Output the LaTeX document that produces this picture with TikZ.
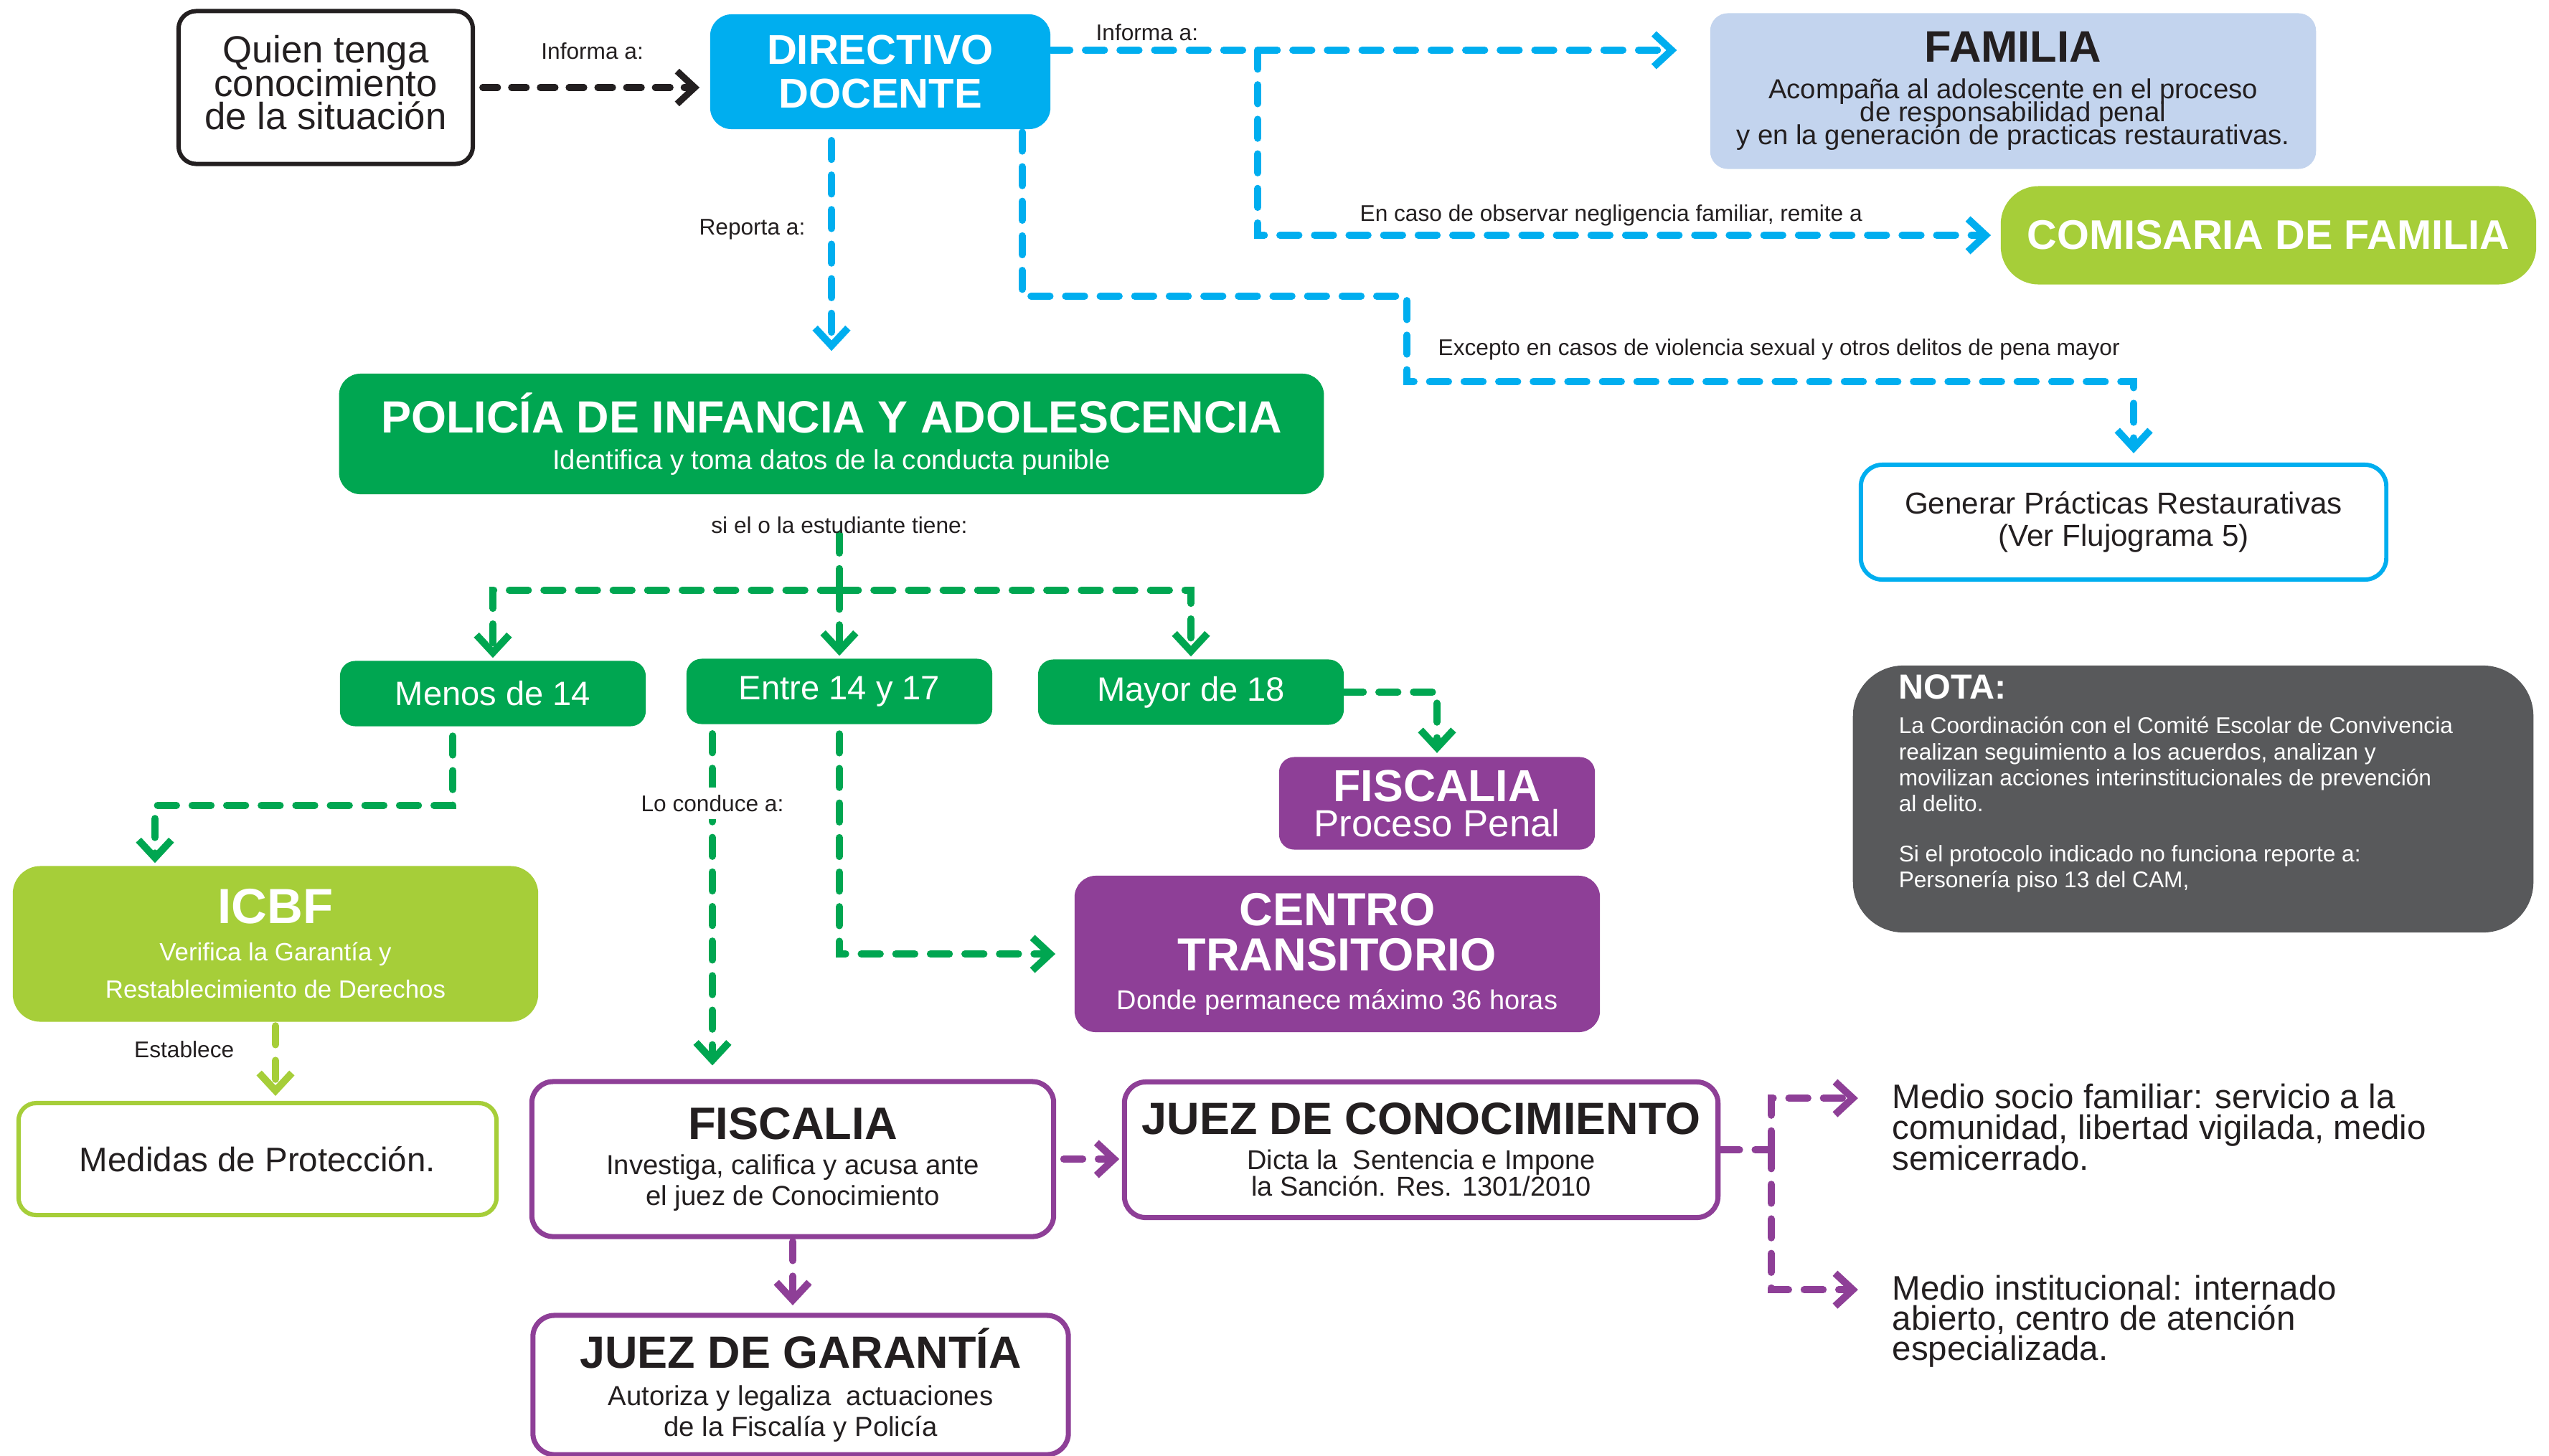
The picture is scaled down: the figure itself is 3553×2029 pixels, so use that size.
\documentclass[tikz,border=0pt]{standalone}
\usepackage{fontspec}
\setmainfont{Liberation Sans}
\usetikzlibrary{arrows.meta}
\definecolor{cyanc}{HTML}{00AEEF}
\definecolor{greenc}{HTML}{00A651}
\definecolor{limec}{HTML}{A6CE39}
\definecolor{paleblue}{HTML}{C3D4EE}
\definecolor{purplec}{HTML}{8E3F97}
\definecolor{greyc}{HTML}{58595B}
\definecolor{inkc}{HTML}{231F20}
\lineskiplimit=-100pt
\lineskip=0pt

\begin{document}
\begin{tikzpicture}[x=0.01cm,y=-0.01cm,
  >={Straight Barb[length=7pt,width=13pt]},
  box/.style={rectangle,rounded corners=8.5pt,inner sep=0pt,align=center},
  agebox/.style={box,fill=greenc,rounded corners=6pt,minimum width=4.26cm,minimum height=0.91cm,text=white,font=\fontsize{13.4}{14}\selectfont},
  judgebox/.style={box,draw=purplec,line width=2pt,text=inkc},
  lbl/.style={inner sep=0pt,text=inkc,font=\fontsize{9}{10}\selectfont},
  dashline/.style={line width=2.85pt,line cap=round,dash pattern=on 7.5pt off 6.2pt},
  bluedash/.style={dashline,draw=cyanc},
  greendash/.style={dashline,draw=greenc},
  limedash/.style={dashline,draw=limec},
  purpledash/.style={dashline,draw=purplec},
  blackdash/.style={line width=2.6pt,line cap=round,dash pattern=on 6pt off 5.4pt,draw=inkc}]

  \fill[white] (0,0) rectangle (3553,2029);
  \useasboundingbox (0,0) rectangle (3553,2029);

  \node[box,draw=inkc,line width=1.7pt,rounded corners=7pt,minimum width=4.1cm,minimum height=2.13cm,text depth=4pt,text=inkc,font=\fontsize{15}{13.2}\selectfont] (1) at (454,122) {Quien tenga\\conocimiento\\de la situación};
  \node[box,fill=cyanc,minimum width=4.74cm,minimum height=1.6cm,text=white,font=\fontsize{16.5}{17.4}\selectfont\bfseries] (2) at (1227,100) {DIRECTIVO\\DOCENTE};
  \node[box,fill=paleblue,rounded corners=7pt,minimum width=8.44cm,minimum height=2.17cm,text=inkc,font=\fontsize{10.9}{9.1}\selectfont] (3) at (2806,127) {{\fontsize{17.5}{18}\selectfont\bfseries FAMILIA}\\[5.3pt]Acompaña al adolescente en el proceso\\de responsabilidad penal\\y en la generación de practicas restaurativas.};
  \node[box,fill=limec,rounded corners=15pt,minimum width=7.46cm,minimum height=1.37cm,text=white,font=\fontsize{16.4}{17}\selectfont\bfseries] (4) at (3162,328) {COMISARIA DE FAMILIA};
  \node[box,fill=greenc,minimum width=13.72cm,minimum height=1.68cm,text=white,font=\fontsize{10.9}{12}\selectfont] (5) at (1159,605) {{\fontsize{17.9}{18}\selectfont\bfseries POLICÍA DE INFANCIA Y ADOLESCENCIA}\\[2.5pt]Identifica y toma datos de la conducta punible};
  \node[box,draw=cyanc,line width=1.7pt,minimum width=7.32cm,minimum height=1.6cm,text=inkc,font=\fontsize{12}{12.8}\selectfont] (6) at (2960,728) {Generar Prácticas Restaurativas\\(Ver Flujograma 5)};
  \node[fill=greyc,rounded corners=20pt,inner sep=0pt,minimum width=9.48cm,minimum height=3.72cm,text=white,font=\fontsize{9}{10.3}\selectfont] (7) at (3057,1114) {\parbox[c][3.72cm][t]{8.2cm}{\raggedright\vspace*{3.5pt}{\fontsize{13.8}{14}\selectfont\bfseries NOTA:}\\[3.6pt]La Coordinación con el Comité Escolar de Convivencia\\realizan seguimiento a los acuerdos, analizan y\\movilizan acciones interinstitucionales de prevención\\al delito.\\[9.5pt]Si el protocolo indicado no funciona reporte a:\\Personería piso 13 del CAM,}};
  \node[agebox] (8) at (687,967) {Menos de 14};
  \node[agebox] (9) at (1170,964) {Entre 14 y 17};
  \node[agebox] (10) at (1660,965) {Mayor de 18};
  \node[box,fill=purplec,rounded corners=6pt,minimum width=4.4cm,minimum height=1.29cm,text=white,font=\fontsize{15}{14}\selectfont] (11) at (2003,1120) {{\fontsize{17.8}{18}\selectfont\bfseries FISCALIA}\\Proceso Penal};
  \node[box,fill=purplec,minimum width=7.32cm,minimum height=2.18cm,text=white,font=\fontsize{10.8}{15.4}\selectfont] (12) at (1864,1330) {{\fontsize{18.4}{18}\selectfont\bfseries CENTRO}\\[2.5pt]{\fontsize{18.4}{18}\selectfont\bfseries TRANSITORIO}\\Donde permanece máximo 36 horas};
  \node[box,fill=limec,rounded corners=11pt,minimum width=7.32cm,minimum height=2.17cm,text=white,font=\fontsize{9.9}{14.8}\selectfont] (13) at (384,1316) {{\fontsize{19.6}{20}\selectfont\bfseries ICBF}\\Verifica la Garantía y\\Restablecimiento de Derechos};
  \node[box,draw=limec,line width=1.7pt,rounded corners=7pt,minimum width=6.66cm,minimum height=1.56cm,text=inkc,font=\fontsize{13.5}{14}\selectfont] (14) at (359,1616) {Medidas de Protección.};
  \node[judgebox,minimum width=7.27cm,minimum height=2.16cm,font=\fontsize{10.9}{12.2}\selectfont] (15) at (1105,1616) {{\fontsize{18}{18}\selectfont\bfseries FISCALIA}\\[1.7pt]Investiga, califica y acusa ante\\el juez de Conocimiento};
  \node[judgebox,minimum width=8.27cm,minimum height=1.89cm,font=\fontsize{10.8}{10.5}\selectfont] (16) at (1981,1603) {{\fontsize{17.9}{18}\selectfont\bfseries JUEZ DE CONOCIMIENTO}\\[3.4pt]Dicta la\ \ Sentencia e Impone\\la Sanción. Res. 1301/2010};
  \node[judgebox,minimum width=7.46cm,minimum height=1.94cm,font=\fontsize{10.9}{12}\selectfont] (17) at (1116,1931) {{\fontsize{17.9}{18}\selectfont\bfseries JUEZ DE GARANTÍA}\\[2.8pt]Autoriza y legaliza\ \ actuaciones\\de la Fiscalía y Policía};
  \node[anchor=north west,inner sep=0pt,align=left,text=inkc,font=\fontsize{13.5}{12.3}\selectfont] (18) at (2637,1510) {Medio socio familiar: servicio a la\\comunidad, libertad vigilada, medio\\semicerrado.};
  \node[anchor=north west,inner sep=0pt,align=left,text=inkc,font=\fontsize{13.5}{12}\selectfont] (19) at (2637,1777) {Medio institucional: internado\\abierto, centro de atención\\especializada.};

  \coordinate (a) at (1753,70);
  \coordinate (b) at (1425,413);
  \coordinate (c) at (1961,532);
  \coordinate (d) at (1170,823);
  \coordinate (e) at (631,1123);
  \coordinate (f) at (216,1123);
  \coordinate (g) at (993,1010);
  \coordinate (h) at (2469,1603);

  \draw[blackdash,->,shorten <=3pt,shorten >=4pt] (1) -- node[lbl,above=9.8pt] {Informa a:} (1 -| 2.west);
  \draw[bluedash,->,shorten >=13pt] (2.east |- a) -- node[lbl,above=2.4pt,pos=0.146] {Informa a:} (3.west |- a);
  \draw[bluedash,->,shorten >=3.7pt] (a) |- node[lbl,above=2.3pt,pos=0.738] {En caso de observar negligencia familiar, remite a} (4.west);
  \draw[bluedash,->,shorten <=1pt,shorten >=3.7pt] (2.south -| b) -- (b) -| (c) -| node[lbl,above=7.1pt,pos=0.256] {Excepto en casos de violencia sexual y otros delitos de pena mayor} ([xshift=4pt]6.north);
  \draw[bluedash,->,shorten <=4.3pt,shorten >=8.8pt] (2.south -| 5.north) -- node[lbl,left=9pt,pos=0.41] {Reporta a:} (5.north);

  \draw[greendash,shorten <=15.6pt] (5.south -| d) -- node[lbl,pos=0.32] {si el o la estudiante tiene:} (d);
  \draw[greendash,->,shorten >=1pt] (d) -| (8.north);
  \draw[greendash,->,shorten >=1pt] (d) -- (9.north);
  \draw[greendash,->,shorten >=1pt] (d) -| (10.north);
  \draw[greendash,->,shorten >=1.4pt] (10.east) -| (11.north);
  \draw[greendash,->,shorten <=3.7pt,shorten >=1pt] (8.south -| e) -- (e) -- (f) -- (f |- 13.north);
  \draw[greendash,->,shorten <=3.7pt,shorten >=5.4pt] (g) -- node[lbl,fill=white,inner sep=3pt,pos=0.223] {Lo conduce a:} (g |- 15.north);
  \draw[greendash,->,shorten <=3.7pt,shorten >=7.4pt] (9.south) |- (12.west);
  \draw[limedash,->,shorten <=1.4pt,shorten >=2pt] (13.south) -- node[lbl,left=15pt,pos=0.35] {Establece} (13.south |- 14.north);

  \draw[purpledash,->,shorten <=3pt,shorten >=1pt] (15.east) -- (15.east -| 16.west);
  \draw[purpledash,->,shorten <=1pt,shorten >=3pt] (15.south) -- (15.south |- 17.north);
  \draw[purpledash] (16.east) -- (h);
  \draw[purpledash,->,shorten >=13.4pt] (h) |- ([yshift=-6pt]18.north west);
  \draw[purpledash,->,shorten >=13.4pt] (h) |- ([yshift=-6pt]19.north west);
\end{tikzpicture}
\end{document}
